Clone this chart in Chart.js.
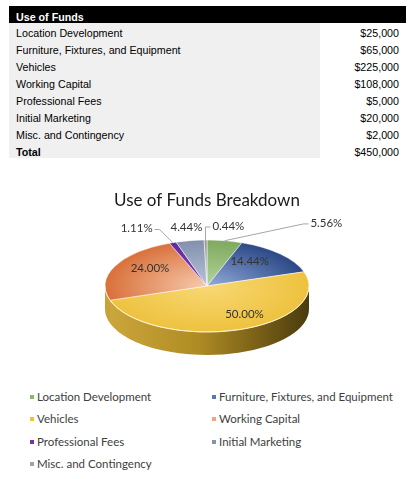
<!DOCTYPE html>
<html><head><meta charset="utf-8">
<script src="https://cdn.jsdelivr.net/npm/chart.js@4"></script>
<style>
html,body{margin:0;padding:0;background:#fff;width:419px;height:479px;overflow:hidden;position:relative;}
.t{position:absolute;font-family:"Liberation Sans",Arial,sans-serif;font-size:10.7px;color:#000;white-space:nowrap;height:17px;line-height:17px;}
#hdrbg{position:absolute;left:9px;top:6px;width:397px;height:17px;background:#000;}
#graybg{position:absolute;left:9px;top:23px;width:311px;height:135px;background:#f0f0f0;}
#wrap{position:absolute;left:0;top:180px;width:419px;height:200px;}
.li{position:absolute;white-space:nowrap;height:20px;line-height:20px;font-family:Lato,sans-serif;font-size:11.5px;color:#404040;}
.li i{display:inline-block;width:4px;height:4px;margin-right:3px;vertical-align:middle;position:relative;top:-1px;}
</style>
</head><body>
<div id="hdrbg"></div><div id="graybg"></div>
<div id="tbl"></div>
<div id="wrap"><canvas id="c" width="419" height="200"></canvas></div>
<div id="legend"></div>
<script>
// ---- data ----
const tableTitle = "Use of Funds";
const chartTitle = "Use of Funds Breakdown";
const categories = ["Location Development","Furniture, Fixtures, and Equipment","Vehicles","Working Capital","Professional Fees","Initial Marketing","Misc. and Contingency"];
const amounts = [25000, 65000, 225000, 108000, 5000, 20000, 2000];
const totalLabel = "Total";

// ---- styles ----
const legendColors = ['#8DB46A','#5679B6','#F1C232','#F2A57E','#7434A8','#8494AE','#A3A3A3'];
const faceInner = ['#B2D49A','#93ACDC','#F8D873','#F7CBAE','#8240B6','#B8C3D8','#C2C2C2'];
const faceOuter = ['#7EA95E','#2B4886','#EEC23F','#D9703A','#66289A','#8290AE','#949494'];
const sideLight = ['#7A9E5A','#3A5590','#CCA73C','#C9A23A','#5A2288','#75839F','#888888'];
const sideMid   = ['#607F45','#2C4476','#B08C24','#B08C24','#4A1C70','#5E6B85','#707070'];
const sideDark  = ['#3F552C','#1C2C4E','#4B3B0D','#4B3B0D','#301248','#3E4658','#4A4A4A'];

const total = amounts.reduce((a, b) => a + b, 0);
const money = v => '$' + v.toLocaleString('en-US');

// ---- table ----
(function () {
  const tbl = document.getElementById('tbl');
  const add = (txt, css) => { const d = document.createElement('div'); d.className = 't'; d.textContent = txt; Object.assign(d.style, css); tbl.appendChild(d); };
  add(tableTitle, {left: '16px', top: '8.5px', color: '#fff', fontWeight: 'bold'});
  const rows = categories.map((c, i) => [c, amounts[i], false]).concat([[totalLabel, total, true]]);
  rows.forEach((r, i) => {
    const top = (25.1 + 17 * i) + 'px';
    add(r[0], {left: '16px', top: top, fontWeight: r[2] ? 'bold' : 'normal'});
    add(money(r[1]), {right: '20px', top: top});
  });
})();

// ---- legend ----
(function () {
  const lg = document.getElementById('legend');
  categories.forEach((c, i) => {
    const d = document.createElement('div');
    d.className = 'li';
    d.style.left = (i % 2 === 0 ? 30 : 212) + 'px';
    d.style.top = (387 + Math.floor(i / 2) * 22.3) + 'px';
    const m = document.createElement('i'); m.style.background = legendColors[i];
    d.appendChild(m); d.appendChild(document.createTextNode(c));
    lg.appendChild(d);
  });
})();

// ---- 3D pie plugin ----
const pie3d = {
  id: 'pie3d',
  beforeDatasetsDraw(chart, args, o) {
    const arcs = chart.getDatasetMeta(0).data;
    const c = chart.ctx;
    const cx = arcs[0].x, R = arcs[0].outerRadius, ry = R * o.tilt, cyE = o.centerY;
    arcs.forEach((a, i) => {
      const s = Math.max(a.startAngle, 0), e = Math.min(a.endAngle, Math.PI);
      if (e <= s) return;
      c.save();
      c.beginPath();
      c.ellipse(cx, cyE, R, ry, 0, s, e, false);
      c.ellipse(cx, cyE + o.depth, R, ry, 0, e, s, true);
      c.closePath();
      const g = c.createLinearGradient(cx - R, 0, cx + R, 0);
      g.addColorStop(0, sideLight[i]); g.addColorStop(0.45, sideMid[i]); g.addColorStop(1, sideDark[i]);
      c.fillStyle = g; c.fill();
      c.restore();
    });
    c.save();
    c.translate(cx, cyE); c.scale(1, o.tilt); c.translate(-cx, -arcs[0].y);
  },
  afterDatasetsDraw(chart, args, o) {
    const c = chart.ctx;
    c.restore();
    const arcs = chart.getDatasetMeta(0).data;
    const cx = arcs[0].x, R = arcs[0].outerRadius, ry = R * o.tilt, cyE = o.centerY;
    // rim highlight
    c.save();
    c.beginPath(); c.ellipse(cx, cyE, R, ry, 0, 0, Math.PI, false);
    c.strokeStyle = 'rgba(255,244,205,0.85)'; c.lineWidth = 1; c.stroke();
    c.restore();
    // labels
    c.save();
    c.font = '11.5px Lato, sans-serif';
    c.fillStyle = '#333'; c.textAlign = 'center'; c.textBaseline = 'middle';
    c.strokeStyle = '#A6A6A6'; c.lineWidth = 1;
    arcs.forEach((a, i) => {
      const mid = (a.startAngle + a.endAngle) / 2;
      const pct = (amounts[i] / total * 100).toFixed(2) + '%';
      if (amounts[i] / total > 0.1) {
        const x = cx + R * o.insideR * Math.cos(mid) + o.shiftX[i];
        const y = cyE + ry * o.insideR * Math.sin(mid) + o.shiftY[i];
        c.fillText(pct, x, y);
      } else {
        const ax = cx + R * Math.cos(mid), ay = cyE + ry * Math.sin(mid);
        const x = cx + R * 1.15 * Math.cos(mid) + o.shiftX[i];
        const y = cyE + (ry + 14) * Math.sin(mid) + o.shiftY[i];
        c.fillText(pct, x, y);
        if (Math.abs(o.shiftX[i]) > 10) {
          const w = c.measureText(pct).width;
          const side = o.shiftX[i] > 0 ? -1 : 1;
          const ex = x + side * (w / 2 + 2);
          c.beginPath(); c.moveTo(ex, y + 1); c.lineTo(ex + side * 5, y + 1); c.lineTo(ax, ay); c.stroke();
        }
      }
    });
    c.restore();
  }
};

function faceGradient(ctx) {
  const ch = ctx.chart, ca = ch.chartArea;
  const i = ctx.dataIndex;
  if (!ca) return faceInner[i];
  const x = (ca.left + ca.right) / 2, y = (ca.top + ca.bottom) / 2;
  const g = ch.ctx.createRadialGradient(x, y, 0, x, y, 102);
  g.addColorStop(0, faceInner[i]); g.addColorStop(1, faceOuter[i]);
  return g;
}

new Chart(document.getElementById('c'), {
  type: 'pie',
  data: {
    labels: categories,
    datasets: [{
      data: amounts,
      backgroundColor: faceGradient,
      borderColor: 'rgba(255,255,255,0.7)',
      borderWidth: 1,
      radius: 102,
      clip: false
    }]
  },
  plugins: [pie3d],
  options: {
    responsive: false,
    animation: false,
    events: [],
    layout: {padding: {left: 0, right: 5, top: 0, bottom: 0}},
    plugins: {
      legend: {display: false},
      tooltip: {enabled: false},
      title: {display: true, text: chartTitle, color: '#1a1a1a', font: {family: 'Lato', size: 17, weight: 'normal'}, padding: {top: 10, bottom: 4}},
      pie3d: {
        centerY: 106, tilt: 0.451, depth: 23, insideR: 0.65,
        shiftX: [99, -5, 17, 3, -31, -1, 23],
        shiftY: [-4, -4, 0, -5, -1, 0, 0]
      }
    }
  }
});
</script>
</body></html>
